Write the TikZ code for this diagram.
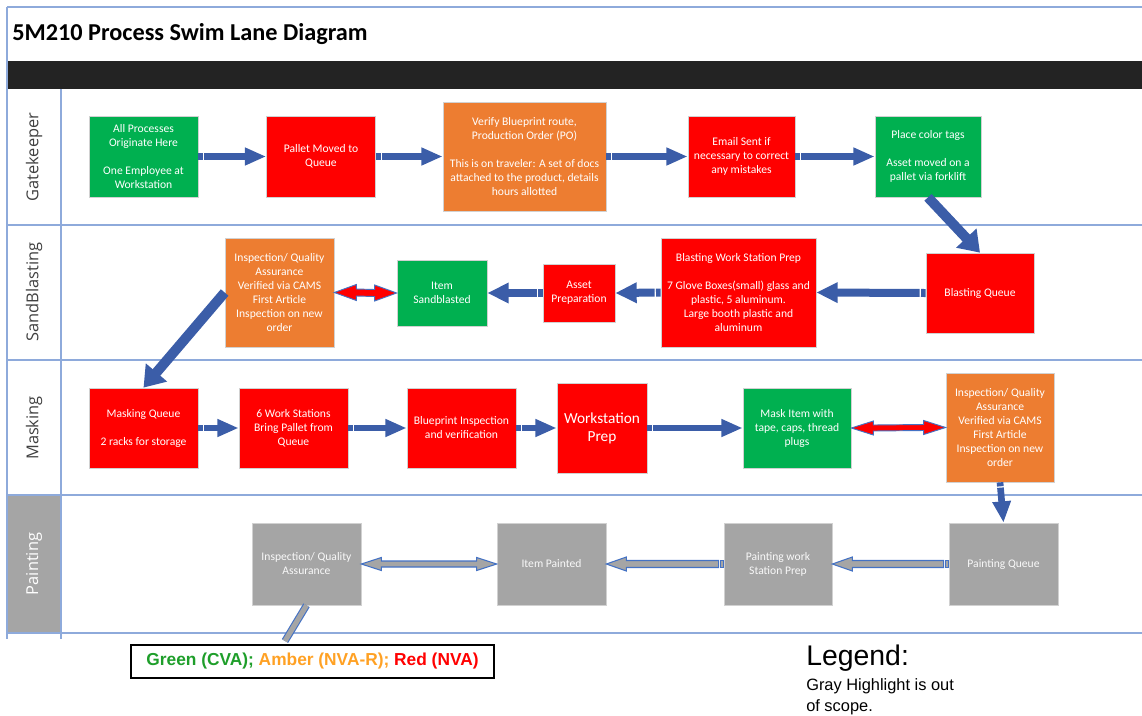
\documentclass[tikz,border=0pt]{standalone}
\usepackage{fontspec}
\setmainfont{Carlito}
\newfontfamily\lanefont{Open Sans}
\newfontfamily\arialfont{Liberation Sans}
\usetikzlibrary{arrows.meta,calc}
\definecolor{cvagreen}{HTML}{00B050}
\definecolor{nvared}{HTML}{FF0000}
\definecolor{nvaorange}{HTML}{ED7D31}
\definecolor{outgray}{HTML}{A5A5A5}
\definecolor{flowblue}{HTML}{3B5DA8}
\definecolor{outlineblue}{HTML}{4472C4}
\definecolor{laneline}{HTML}{8EAADB}
\definecolor{barblack}{HTML}{232323}
\definecolor{legGreen}{HTML}{1E9E2A}
\definecolor{legAmber}{HTML}{FFA124}
\definecolor{legRed}{HTML}{FF0000}
\definecolor{lanetext}{HTML}{404040}
% double-headed block arrow: style, left anchor, right anchor, head length, head half width, body half width
\newcommand\dblblock[6]{\path[#1] (#2) -- ($(#2)+(#4,#5)$) -- ($(#2)+(#4,#6)$) -- ($(#3)+(-#4,#6)$) -- ($(#3)+(-#4,#5)$) -- (#3) -- ($(#3)+(-#4,-#5)$) -- ($(#3)+(-#4,-#6)$) -- ($(#2)+(#4,-#6)$) -- ($(#2)+(#4,-#5)$) -- cycle;}
% left-pointing block arrow: style, tail anchor (right), tip anchor (left), head length, head half width, body half width
\newcommand\leftblock[6]{\path[#1] (#3) -- ($(#3)+(#4,#5)$) -- ($(#3)+(#4,#6)$) -- ($(#2)+(-5,#6)$) -- ($(#2)+(-5,-#6)$) -- ($(#3)+(#4,-#6)$) -- ($(#3)+(#4,-#5)$) -- cycle;
 \path[#1] ($(#2)+(-3.5,#6)$) rectangle ($(#2)+(0,-#6)$);}
\tikzset{
  box/.style 2 args={draw=black!18, line width=0.5pt, text=white, align=center, inner sep=1pt,
    font=\fontsize{8.7}{10.5}\selectfont, minimum width=#1*0.75pt, minimum height=#2*0.75pt},
  green/.style={fill=cvagreen},
  red/.style={fill=nvared},
  amber/.style={fill=nvaorange},
  grey/.style={fill=outgray, text=white!95!gray},
  flow/.style={draw=flowblue, line width=5.2pt, -{Triangle[length=16pt,width=12.5pt]},
    dash pattern=on 3.5pt off 1pt on 2000pt},
  flowwide/.style={draw=flowblue, line width=6pt, -{Triangle[length=16pt,width=14.5pt]},
    dash pattern=on 3.5pt off 1pt on 2000pt},
  bigflow/.style={draw=flowblue, line width=7.5pt, -{Triangle[length=15pt,width=20pt]}},
  downflow/.style={draw=flowblue, line width=5pt, -{Triangle[length=16pt,width=13pt]},
    dash pattern=on 3pt off 1pt on 2000pt},
  reddbl/.style={fill=nvared, draw=outlineblue, line width=0.7pt},
  greydbl/.style={fill=outgray, draw=outlineblue, line width=0.8pt},
  lane/.style={draw=laneline, line width=1.1pt},
  lanelabel/.style={rotate=90, font=\lanefont\fontsize{12.3}{14}\selectfont, text=lanetext},
}
\begin{document}
\begin{tikzpicture}[x=0.75pt, y=-0.75pt]
\useasboundingbox (0,0) rectangle (1142,715);
% frame and lanes
\fill[barblack] (7,61) rectangle (1142,89);
\fill[outgray] (7,495) rectangle (61,633);
\draw[lane] (7,7) -- (1142,7);
\draw[lane] (7,7) -- (7,639);
\draw[lane] (61,89) -- (61,639);
\draw[lane] (7,225) -- (1142,225);
\draw[lane] (7,360) -- (1142,360);
\draw[lane] (7,495) -- (1142,495);
\draw[lane] (7,633) -- (1142,633);
\node[anchor=base west, inner sep=0pt, font=\bfseries\fontsize{18.2}{21}\selectfont] (title) at (12,40) {5M210 Process Swim Lane Diagram};
\node[lanelabel] (lg) at (34,157) {Gatekeeper};
\node[lanelabel] (ls) at (34,292) {SandBlasting};
\node[lanelabel] (lm) at (34,428) {Masking};
\node[lanelabel, text=white] (lp) at (34,564) {Painting};
% Gatekeeper
\node[box={109}{81}, green] (g1) at (143.5,156.5) {All Processes\\Originate Here\\[10.5pt]One Employee at\\Workstation};
\node[box={109}{81}, red] (g2) at (321,156.5) {Pallet Moved to\\Queue};
\node[box={163}{109}, amber] (g3) at (524.5,156.5) {Verify Blueprint route,\\Production Order (PO)\\[10.5pt]This is on traveler: A set of docs\\attached to the product, details\\hours allotted};
\node[box={107}{81}, red] (g4) at (741.5,156.5) {Email Sent if\\necessary to correct\\any mistakes};
\node[box={106}{81}, green] (g5) at (928,156.5) {Place color tags\\[10.5pt]Asset moved on a\\pallet via forklift};
% SandBlasting
\node[box={109}{109}, amber] (s1) at (279.5,292.5) {Inspection/ Quality\\Assurance\\Verified via CAMS\\First Article\\Inspection on new\\order};
\node[box={90}{66}, green] (s2) at (442,293) {Item\\Sandblasted};
\node[box={72}{58}, red] (s3) at (579,293) {Asset\\Preparation};
\node[box={155}{109}, red] (s4) at (738.5,292.5) {Blasting Work Station Prep\\[10.5pt]7 Glove Boxes(small) glass and\\plastic, 5 aluminum.\\Large booth plastic and\\aluminum};
\node[box={108}{80}, red] (s5) at (980,293) {Blasting Queue};
% Masking
\node[box={109}{80}, red] (m1) at (143.5,428) {Masking Queue\\[10.5pt]2 racks for storage};
\node[box={109}{80}, red] (m2) at (293.5,428) {6 Work Stations\\Bring Pallet from\\Queue};
\node[box={109}{80}, red] (m3) at (461.5,428) {Blueprint Inspection\\and verification};
\node[box={90}{90}, red, font=\fontsize{11.5}{13.5}\selectfont] (m4) at (602,428) {Workstation\\Prep};
\node[box={108}{80}, green] (m5) at (797,428) {Mask Item with\\tape, caps, thread\\plugs};
\node[box={108}{109}, amber] (m6) at (1000,427.5) {Inspection/ Quality\\Assurance\\Verified via CAMS\\First Article\\Inspection on new\\order};
% Painting
\node[box={109}{82}, grey] (p1) at (306.5,564) {Inspection/ Quality\\Assurance};
\node[box={109}{82}, grey] (p2) at (551.5,564) {Item Painted};
\node[box={108}{82}, grey] (p3) at (778,564) {Painting work\\Station Prep};
\node[box={109}{82}, grey] (p4) at (1003.5,564) {Painting Queue};
\coordinate (pout) at (285,641);
% connectors
\draw[flow] (g1.east) -- (g2.west);
\draw[flow] (g2.east) -- (g3.west);
\draw[flow] (g3.east) -- (g4.west);
\draw[flow] (g4.east) -- (g5.west);
\draw[bigflow] (g5.south) -- (s5.north);
\draw[flowwide] (s5.west) -- (s4.east);
\draw[flowwide] (s4.west) -- (s3.east);
\draw[flowwide] (s3.west) -- (s2.east);
\dblblock{reddbl}{s1.east}{s2.west}{22}{8}{3.5}
\draw[bigflow] (s1.west) -- (m1.north);
\draw[flow] (m1.east) -- (m2.west);
\draw[flow] (m2.east) -- (m3.west);
\draw[flow] (m3.east) -- (m4.west);
\draw[flow] (m4.east) -- (m5.west);
\dblblock{reddbl}{m5.east}{m6.west}{22}{7}{3}
\draw[downflow] (m6.south) -- (p4.north);
\leftblock{greydbl}{p4.west}{p3.east}{20}{7}{3.5}
\leftblock{greydbl}{p3.west}{p2.east}{20}{7}{3.5}
\dblblock{greydbl}{p1.east}{p2.west}{20}{6.5}{3}
\draw[draw=outlineblue, line width=5.5pt] (p1.south) -- (pout);
\draw[draw=outgray, line width=3.8pt] (p1.south) -- (pout);
% legend
\node[draw=black, line width=1.6pt, minimum width=363*0.75pt, minimum height=33*0.75pt, inner sep=0pt,
  font=\arialfont\bfseries\fontsize{13}{15}\selectfont] (key) at (312.5,661.5)
  {\textcolor{legGreen}{Green (CVA);} \textcolor{legAmber}{Amber (NVA-R);} \textcolor{legRed}{Red (NVA)}};
\node[anchor=base west, inner sep=0pt, font=\arialfont\fontsize{21.3}{24}\selectfont] (legend) at (806,665) {Legend:};
\node[anchor=north west, inner sep=0pt, align=left, font=\arialfont\fontsize{12.3}{15.8}\selectfont] (legtext) at (806,678) {Gray Highlight is out\\of scope.};
\end{tikzpicture}
\end{document}
